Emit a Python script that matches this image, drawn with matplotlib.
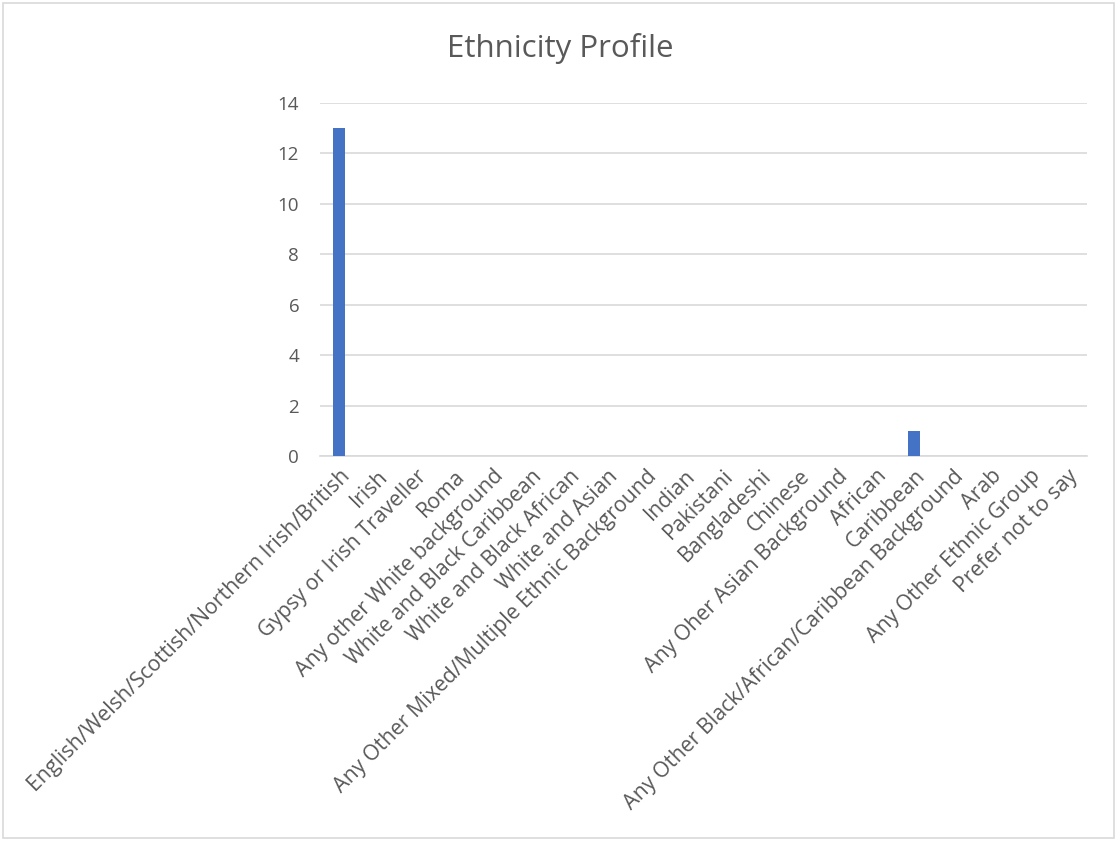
import matplotlib
matplotlib.use("Agg")
import matplotlib.pyplot as plt
from matplotlib.patches import Rectangle

categories = [
    "English/Welsh/Scottish/Northern Irish/British",
    "Irish",
    "Gypsy or Irish Traveller",
    "Roma",
    "Any other White background",
    "White and Black Caribbean",
    "White and Black African",
    "White and Asian",
    "Any Other Mixed/Multiple Ethnic Background",
    "Indian",
    "Pakistani",
    "Bangladeshi",
    "Chinese",
    "Any Oher Asian Background",
    "African",
    "Caribbean",
    "Any Other Black/African/Caribbean Background",
    "Arab",
    "Any Other Ethnic Group",
    "Prefer not to say",
]
counts = [13, 0, 0, 0, 0, 0, 0, 0, 0, 0, 0, 0, 0, 0, 0, 1, 0, 0, 0, 0]
y_ticks = [0, 2, 4, 6, 8, 10, 12, 14]

plt.rcParams["font.family"] = ["Open Sans", "DejaVu Sans"]
text_color = "#595959"
grid_color = "#d9d9d9"
bar_color = "#4472c4"

W, H = 1117, 841
fig = plt.figure(figsize=(W / 100, H / 100), dpi=100)
fig.patches.append(Rectangle((3 / W, 3 / H), 1 - 6 / W, 1 - 6 / H,
                             transform=fig.transFigure, fill=False,
                             edgecolor="#d9d9d9", linewidth=1.2))

ax = fig.add_axes([320 / W, 1 - 456 / H, (1087 - 320) / W, (456 - 103) / H])
x = list(range(len(categories)))
ax.bar(x, counts, width=0.31, color=bar_color, zorder=3)

ax.set_xlim(-0.5, len(categories) - 0.5)
ax.set_ylim(0, 14)
ax.set_yticks(y_ticks)
ax.set_yticklabels([str(v) for v in y_ticks], fontsize=13.5, color=text_color)
ax.set_xticks(x)
ax.set_xticklabels(categories, rotation=45, ha="right", rotation_mode="anchor",
                   fontsize=15.3, color=text_color)
ax.tick_params(axis="both", length=0)
ax.tick_params(axis="y", pad=15)
ax.tick_params(axis="x", pad=7)
ax.grid(axis="y", color=grid_color, linewidth=1.2, zorder=0)
for s in ["top", "right", "left"]:
    ax.spines[s].set_visible(False)
ax.spines["bottom"].set_color(grid_color)
ax.spines["bottom"].set_linewidth(1.2)

fig.text(560 / W, 1 - 49 / H, "Ethnicity Profile", ha="center", va="center",
         fontsize=22.5, color=text_color)

fig.savefig("out.png", dpi=100)
